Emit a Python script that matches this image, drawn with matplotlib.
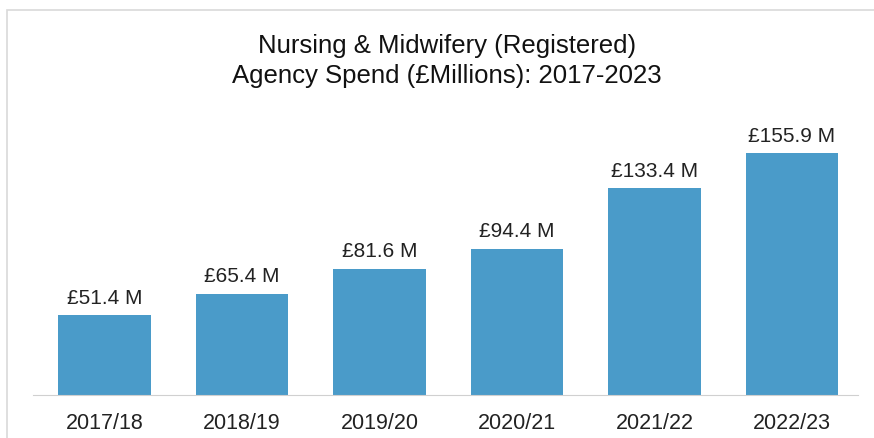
import matplotlib.pyplot as plt
from matplotlib.patches import Rectangle

years = ["2017/18", "2018/19", "2019/20", "2020/21", "2021/22", "2022/23"]
spend = [51.4, 65.4, 81.6, 94.4, 133.4, 155.9]
labels = ["£51.4 M", "£65.4 M", "£81.6 M", "£94.4 M", "£133.4 M", "£155.9 M"]

plt.rcParams["font.family"] = ["Liberation Sans", "DejaVu Sans"]

W, H = 874, 439
fig = plt.figure(figsize=(W / 100, H / 100), dpi=100)

# light grey chart frame (top and left edges only visible)
fig.add_artist(Rectangle((7 / W, -0.2), 1.2, 1 - 11 / H + 0.2, transform=fig.transFigure,
                         fill=False, edgecolor="#d9d9d9", linewidth=1.2))

ax = fig.add_axes([33 / W, 43 / H, (858 - 33) / W, (396 - 100) / H])
x = range(len(years))
ax.bar(x, spend, width=0.67, color="#4a9bc9")
for xi, v, lab in zip(x, spend, labels):
    ax.text(xi, v + 5.5, lab, ha="center", va="bottom", fontsize=15, color="#222222")

ax.set_xlim(-0.52, 5.48)
ax.set_ylim(0, 296 / 1.55)
ax.set_xticks(list(x))
ax.set_xticklabels(years, fontsize=15.5, color="#222222")
ax.tick_params(axis="x", length=0, pad=12)
ax.set_yticks([])
for s in ["top", "right", "left"]:
    ax.spines[s].set_visible(False)
ax.spines["bottom"].set_color("#d0d0d0")

fig.text(447 / W, 1 - 61 / H, "Nursing & Midwifery (Registered)\nAgency Spend (£Millions): 2017-2023",
         ha="center", va="center", fontsize=18.5, color="#111111", linespacing=1.28)

fig.savefig("out.png", dpi=100)
